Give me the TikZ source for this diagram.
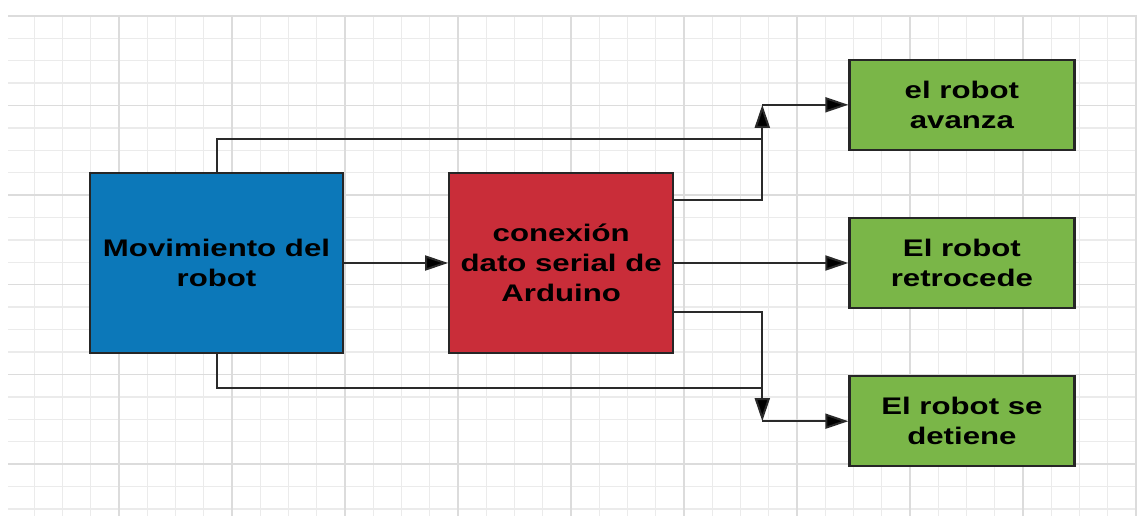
\documentclass[tikz,border=0pt]{standalone}
\usepackage{fontspec}
\newfontfamily\cajafont[FakeStretch=1.3]{Liberation Sans}
\usetikzlibrary{arrows.meta,positioning}
\definecolor{MovBlue}{HTML}{0C78B9}
\definecolor{SerialRed}{HTML}{C92D39}
\definecolor{RobotGreen}{HTML}{7AB648}
\definecolor{BordeGris}{HTML}{262626}
\definecolor{LineaGris}{HTML}{2A2A2A}
\definecolor{GridMinor}{HTML}{EBEBEB}
\definecolor{GridMajor}{HTML}{DCDCDC}

\begin{document}
\begin{tikzpicture}[x=1pt,y=-1pt,>={Triangle[length=23pt,width=15pt,fill=black]},
  caja/.style={draw=BordeGris,line width=2.2pt,align=center,inner sep=0pt,font=\cajafont\bfseries\fontsize{24}{30}\selectfont},
  flecha/.style={->,draw=LineaGris,line width=2pt},
  linea/.style={draw=LineaGris,line width=2pt}]
\useasboundingbox (0,0) rectangle (1140,518);
% cuadricula de fondo
\foreach \i in {0,...,22}
  \draw[GridMinor,line width=1.4pt] (8,16+22.4*\i) -- (1135,16+22.4*\i);
\foreach \i in {1,...,40}
  \draw[GridMinor,line width=1.4pt] (6+28.25*\i,15) -- (6+28.25*\i,516);
\foreach \i in {0,...,5}
  \draw[GridMajor,line width=1.4pt] (8,16+89.6*\i) -- (1135,16+89.6*\i);
\foreach \i in {1,...,10}
  \draw[GridMajor,line width=1.4pt] (6+113*\i,15) -- (6+113*\i,516);

% cajas
\node[caja,fill=MovBlue,minimum width=253pt,minimum height=180pt] (mov) at (216.5,263) {Movimiento del\\robot};
\node[caja,fill=SerialRed,minimum width=224pt,minimum height=180pt,right=104pt of mov] (serial) {conexión\\dato serial de\\Arduino};
\node[caja,fill=RobotGreen,minimum width=225pt,minimum height=90pt,right=174pt of serial] (retro) {El robot\\retrocede};
\node[caja,fill=RobotGreen,minimum width=225pt,minimum height=90pt,above=66pt of retro] (avanza) {el robot\\avanza};
\node[caja,fill=RobotGreen,minimum width=225pt,minimum height=90pt,below=66pt of retro] (detiene) {El robot se\\detiene};

\coordinate[left=86pt of avanza.west] (arriba);
\coordinate[left=86pt of detiene.west] (abajo);

% conexiones
\draw[flecha] (mov) -- (serial);
\draw[flecha] (serial) -- (retro);
\draw[linea] (mov.north) |- ([yshift=-34pt]arriba);
\draw[flecha] ([yshift=63pt]serial.east) -| (arriba);
\draw[flecha] (arriba) -- (avanza);
\draw[linea] (mov.south) |- ([yshift=33pt]abajo);
\draw[flecha] ([yshift=-49pt]serial.east) -| (abajo);
\draw[flecha] (abajo) -- (detiene);
\end{tikzpicture}
\end{document}
